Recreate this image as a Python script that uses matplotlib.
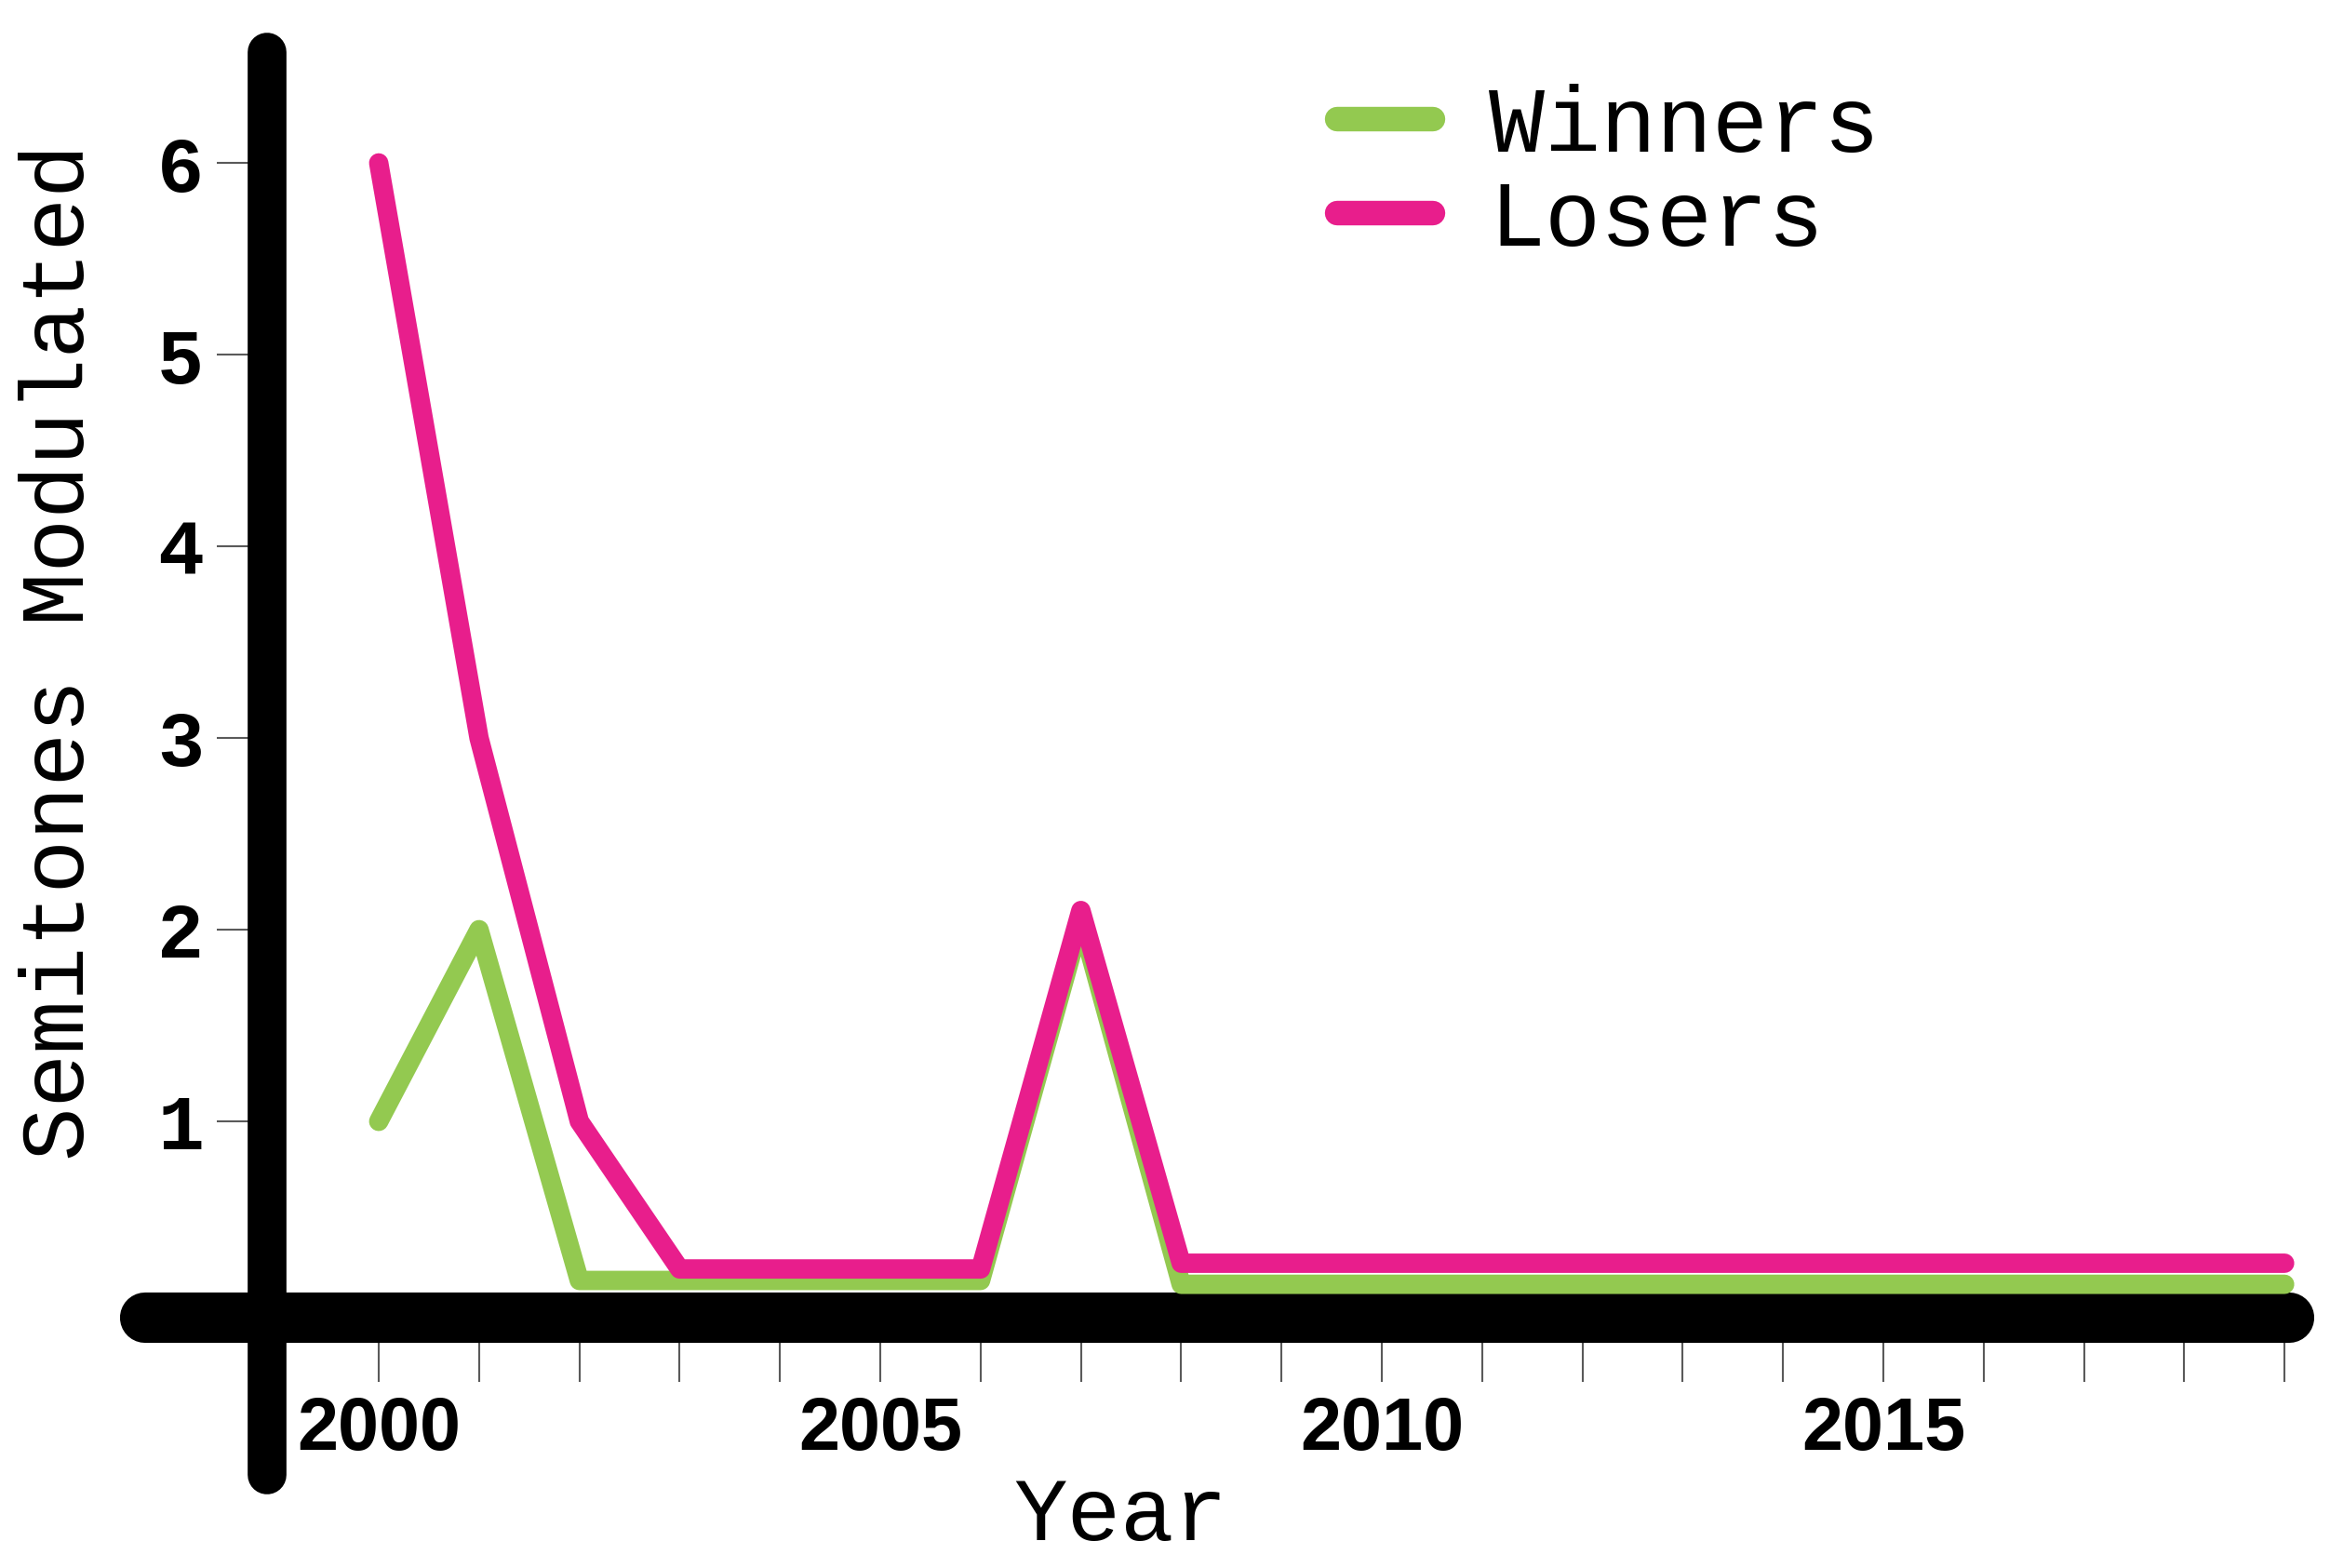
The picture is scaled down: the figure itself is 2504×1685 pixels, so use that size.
import matplotlib
matplotlib.use('Agg')
import matplotlib.pyplot as plt

years = [2000, 2001, 2002, 2003, 2004, 2005, 2006, 2007, 2008, 2009,
         2010, 2011, 2012, 2013, 2014, 2015, 2016, 2017, 2018, 2019]
winners = [1.0, 2.0, 0.17, 0.17, 0.17, 0.17, 0.17, 2.05, 0.15, 0.15,
           0.15, 0.15, 0.15, 0.15, 0.15, 0.15, 0.15, 0.15, 0.15, 0.15]
losers = [6.0, 3.0, 1.0, 0.23, 0.23, 0.23, 0.23, 2.1, 0.26, 0.26,
          0.26, 0.26, 0.26, 0.26, 0.26, 0.26, 0.26, 0.26, 0.26, 0.26]
label_years = [2000, 2005, 2010, 2015]
y_ticks = [1, 2, 3, 4, 5, 6]

green = '#93c950'
pink = '#e81e8c'
tick_grey = '#5a5a5a'

plt.rcParams['font.family'] = ['Liberation Mono', 'DejaVu Sans Mono']

fig = plt.figure(figsize=(25.04, 16.85), dpi=100)
ax = fig.add_axes([0, 0, 1, 1])

ax.plot(years, winners, color=green, label='Winners', linewidth=15,
        solid_capstyle='round', solid_joinstyle='round', zorder=3)
ax.plot(years, losers, color=pink, label='Losers', linewidth=15,
        solid_capstyle='round', solid_joinstyle='round', zorder=4)

ax.set_xlim(1996.2245, 2019.4527)
ax.set_ylim(-1.330, 6.850)

# heavy black axes with rounded ends
ax.spines['top'].set_visible(False)
ax.spines['right'].set_visible(False)
ax.spines['left'].set_position(('data', 1998.887))
ax.spines['left'].set_bounds(-0.845, 6.58)
ax.spines['left'].set_linewidth(30)
ax.spines['left'].set_capstyle('round')
ax.spines['bottom'].set_position(('data', -0.025))
ax.spines['bottom'].set_bounds(1997.667, 2019.04)
ax.spines['bottom'].set_linewidth(39)
ax.spines['bottom'].set_capstyle('round')

ax.set_xticks(label_years)
ax.set_xticks(years, minor=True)
ax.set_xticklabels([str(y) for y in label_years], fontfamily='Liberation Sans',
                   fontweight='bold', fontsize=57)
ax.set_yticks(y_ticks)
ax.set_yticklabels([str(v) for v in y_ticks], fontfamily='Liberation Mono',
                   fontweight='bold', fontsize=60)
ax.tick_params(axis='x', which='both', direction='out', length=50, width=1.5,
               color=tick_grey, pad=10)
ax.tick_params(axis='y', direction='out', length=39, width=1.5,
               color=tick_grey, pad=10)

ax.set_ylabel('Semitones Modulated', fontsize=69, va='center')
ax.yaxis.set_label_coords(0.026, 0.584)
ax.set_xlabel('Year', fontsize=69, va='baseline')
ax.xaxis.set_label_coords(0.481, 0.018)

leg = ax.legend(loc='center left', bbox_to_anchor=(0.5739, 0.8887),
                bbox_transform=fig.transFigure, frameon=False, fontsize=72,
                handlelength=1.03, handletextpad=0.6, labelspacing=0.07,
                borderpad=0, borderaxespad=0)
for line in leg.get_lines():
    line.set_linewidth(19)
    line.set_solid_capstyle('round')

fig.savefig('out.png', dpi=100)
